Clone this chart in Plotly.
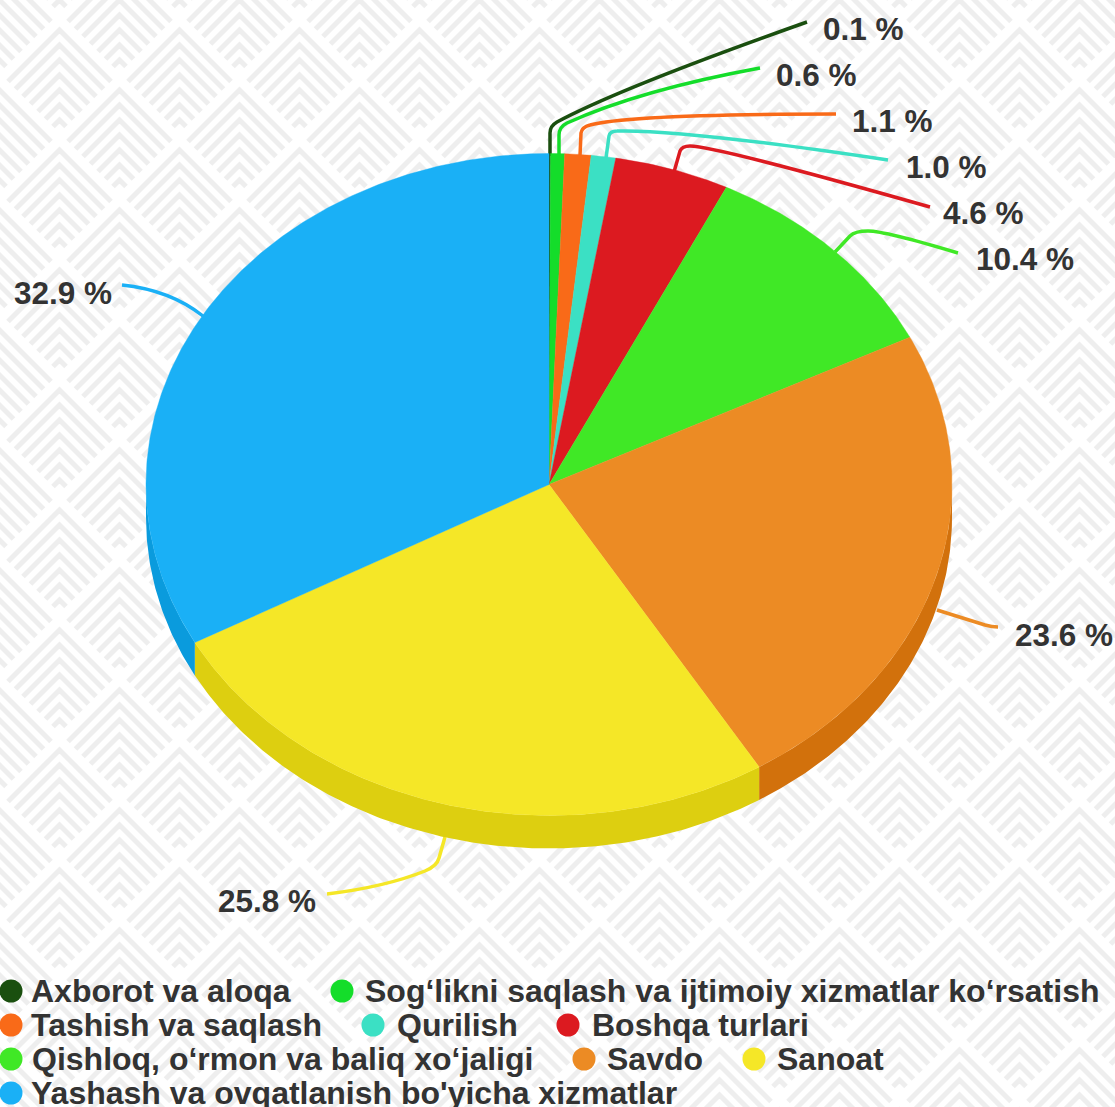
import numpy as np
import plotly.graph_objects as go

# Chart data
categories = [
    "Axborot va aloqa",
    "Sog‘likni saqlash va ijtimoiy xizmatlar ko‘rsatish",
    "Tashish va saqlash",
    "Qurilish",
    "Boshqa turlari",
    "Qishloq, o‘rmon va baliq xo‘jaligi",
    "Savdo",
    "Sanoat",
    "Yashash va ovqatlanish bo'yicha xizmatlar",
]
values = [0.06, 0.56, 1.05, 0.98, 4.6, 10.4, 23.6, 25.8, 32.9]
value_labels = ["0.1 %", "0.6 %", "1.1 %", "1.0 %", "4.6 %", "10.4 %", "23.6 %", "25.8 %", "32.9 %"]

# Visual configurations
face_colors = ["#1A4F0F", "#14DD2A", "#F96A18", "#3BE0C4", "#DC1A20",
               "#40E826", "#EC8B24", "#F5E727", "#1AB0F6"]
side_colors = ["#154009", "#10B822", "#D2590F", "#30BBA3", "#B7141A",
               "#34C41E", "#D2710C", "#DDCF10", "#0A9BDD"]
text_color = "#333333"
font_family = "Liberation Sans"
font_size = 32
label_size = 31.5

W, H = 1115, 1107
cx, cy, rx, ry, depth = 549, 484.5, 403, 331, 33

label_pos = [(822, 29), (775, 75), (851, 121), (905, 167), (942, 213),
             (975, 259), (1014, 635), (217, 901), (13, 293)]
legend_pos = [(11, 991, 30), (342, 991, 364), (11, 1025, 30), (373, 1025, 396),
              (568, 1025, 591), (11, 1059, 31), (584, 1059, 606), (754, 1059, 776),
              (11, 1093, 30)]
leader_paths = [
    "M550,156 L550,133 Q550,126 557,122 Q620,88 807,22",
    "M559,155 L559,135 Q559,127 567,123 Q640,90 760,68",
    "M580,156 L581,133 Q582,127 590,125 Q630,114 836,114",
    "M606,158 L609,136 Q610,131 617,131 Q680,129 888,160",
    "M674,172 L680,151 Q682,146 690,146 Q715,146 930,207",
    "M835,252 L850,236 Q855,231 868,231 Q885,231 958,253",
    "M937,610 L985,625 Q992,627 998,627",
    "M445,837 L439,858 Q437,866 425,871 Q385,887 327,894",
    "M122,285 Q170,290 203,316",
]


def arc(start, end):
    n = max(int((end - start) * 2), 2)
    t = np.radians(np.linspace(start, end, n))
    return cx + rx * np.sin(t), cy - ry * np.cos(t)


edges = np.cumsum([0] + values) / sum(values) * 360

fig = go.Figure()

# Background pattern
bg_path = []
for i in range(-1, 11):
    for j in range(-1, 11):
        for ax, ay in [(59.5 + 120 * i, 18 + 120 * j), (119.5 + 120 * i, 78 + 120 * j)]:
            for d in range(12, 115, 15):
                t = (120 - d) / 2 - 2.5
                bg_path.append(f"M{ax - t},{ay + d + t} L{ax},{ay + d} L{ax + t},{ay + d + t}")

# Pie side wall
for name, color, lo, hi in zip(categories, side_colors, edges[:-1], edges[1:]):
    lo, hi = max(lo, 90), min(hi, 270)
    if hi <= lo:
        continue
    ax, ay = arc(lo, hi)
    fig.add_trace(go.Scatter(
        x=np.r_[ax, ax[::-1]], y=np.r_[ay, ay[::-1] + depth],
        mode="lines", fill="toself", fillcolor=color, line=dict(width=0),
        hoverinfo="skip", showlegend=False
    ))

# Pie top face
for name, lab, color, lo, hi in zip(categories, value_labels, face_colors, edges[:-1], edges[1:]):
    ax, ay = arc(lo, hi)
    fig.add_trace(go.Scatter(
        x=np.r_[cx, ax, cx], y=np.r_[cy, ay, cy],
        mode="lines", fill="toself", fillcolor=color,
        line=dict(width=0.4, color=color), name=name,
        hovertemplate=f"{name}: {lab}<extra></extra>", showlegend=False
    ))

# Legend markers
fig.add_trace(go.Scatter(
    x=[p[0] for p in legend_pos], y=[p[1] for p in legend_pos], mode="markers",
    marker=dict(size=23, color=face_colors), hoverinfo="skip", showlegend=False
))

# Pattern first, leader lines on top of it, both under the pie
shapes = [dict(type="path", path=" ".join(bg_path),
               line=dict(color="#EEEEEE", width=5), layer="below")]
shapes += [
    dict(type="path", path=p, line=dict(color=c, width=3.5), layer="below")
    for p, c in zip(leader_paths, face_colors)
]

# Labels and legend text
annotations = []
for lab, (x, y) in zip(value_labels, label_pos):
    annotations.append(dict(
        x=x, y=y, text=f"<b>{lab}</b>", showarrow=False, xanchor="left",
        yanchor="middle", borderpad=0, font=dict(size=label_size)
    ))
for name, (_, y, x) in zip(categories, legend_pos):
    annotations.append(dict(
        x=x, y=y, text=f"<b>{name}</b>", showarrow=False, xanchor="left",
        yanchor="middle", borderpad=0
    ))

fig.update_layout(
    width=W, height=H,
    margin=dict(l=0, r=0, t=0, b=0),
    paper_bgcolor="white", plot_bgcolor="rgba(0,0,0,0)",
    font=dict(family=font_family, size=font_size, color=text_color),
    xaxis=dict(range=[0, W], visible=False, fixedrange=True),
    yaxis=dict(range=[H, 0], visible=False, fixedrange=True),
    shapes=shapes, annotations=annotations,
)

fig.write_html(
    "out.html",
    config=dict(displayModeBar=False),
    post_script="document.body.style.margin='0';document.body.style.overflow='hidden';",
)
